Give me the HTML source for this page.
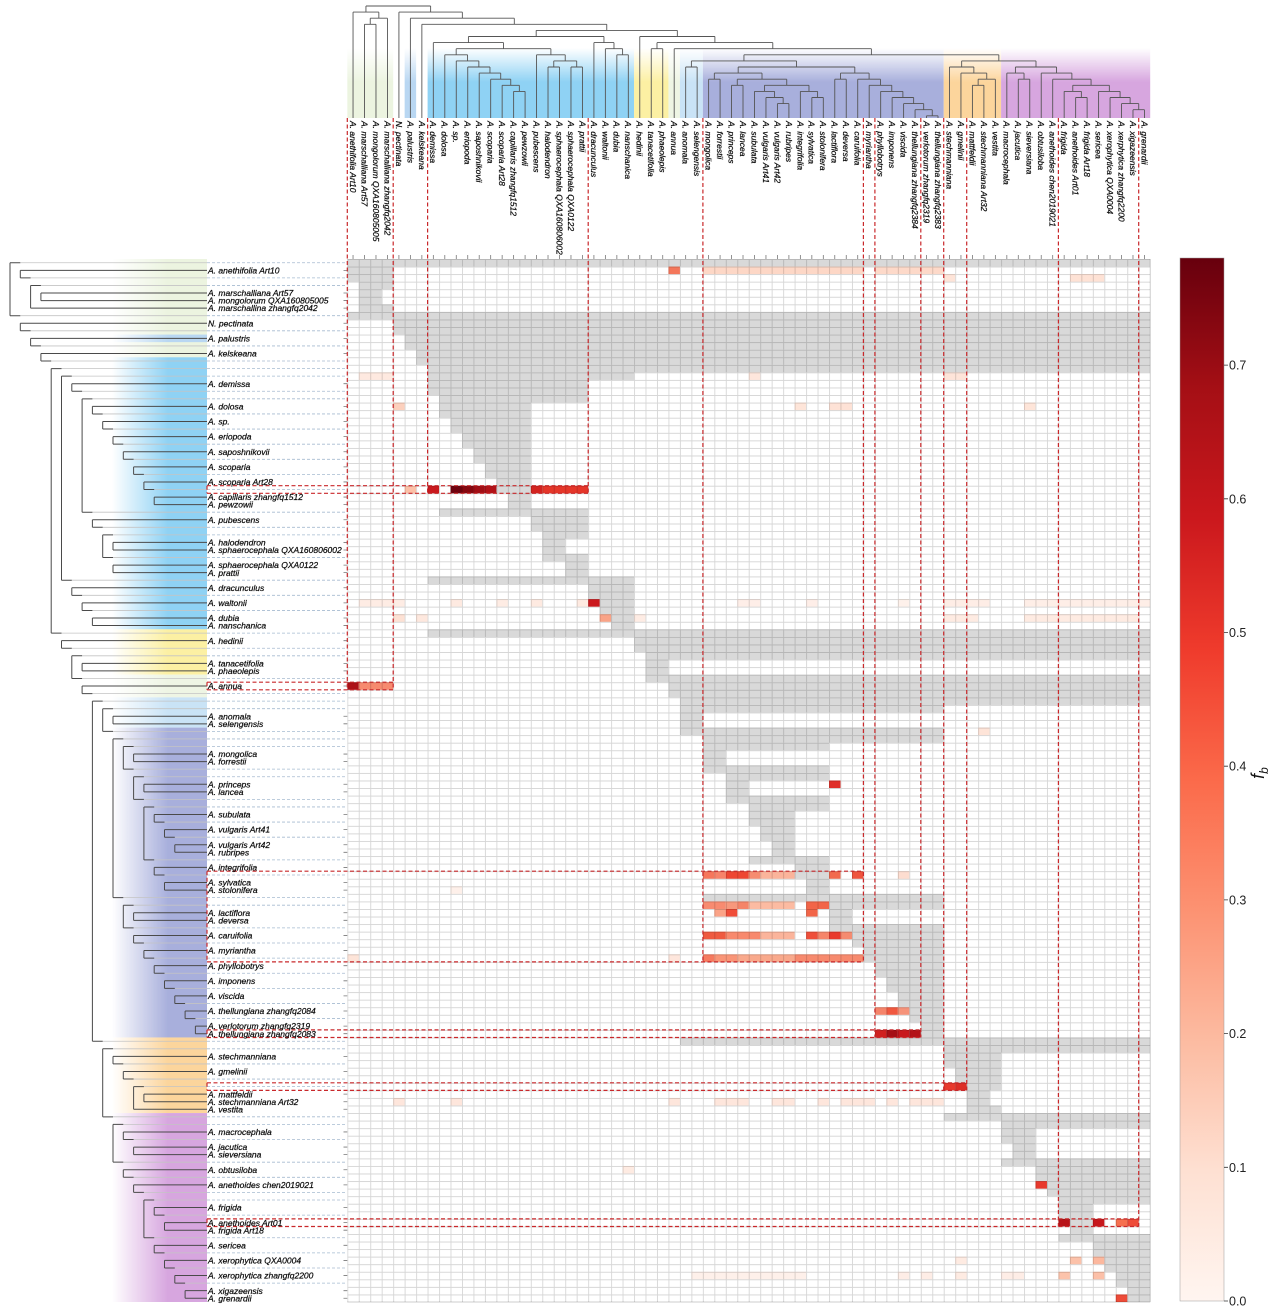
<!DOCTYPE html>
<html><head><meta charset="utf-8">
<style>
html,body{margin:0;padding:0;background:#fff;}
svg{display:block;}
text{font-family:"Liberation Sans",Arial,sans-serif;}
.lb text{font-size:8.5px;font-style:italic;fill:#0a0a0a;stroke:#0a0a0a;stroke-width:0.22px;}
.cb text{font-size:12.5px;fill:#222;}
</style></head><body>
<svg id="fig" width="1269" height="1311" viewBox="0 0 1269 1311" xmlns="http://www.w3.org/2000/svg">
<defs>
 <linearGradient id="fadeV" x1="0" y1="48" x2="0" y2="82" gradientUnits="userSpaceOnUse"><stop offset="0" stop-color="#000"/><stop offset="1" stop-color="#fff"/></linearGradient>
 <mask id="mTop" maskUnits="userSpaceOnUse" x="0" y="0" width="1269" height="130"><rect x="0" y="0" width="1269" height="130" fill="url(#fadeV)"/></mask>
 <linearGradient id="fadeH" x1="112" y1="0" x2="168" y2="0" gradientUnits="userSpaceOnUse"><stop offset="0" stop-color="#000"/><stop offset="1" stop-color="#fff"/></linearGradient>
 <mask id="mLeft" maskUnits="userSpaceOnUse" x="0" y="250" width="220" height="1061"><rect x="0" y="250" width="220" height="1061" fill="url(#fadeH)"/></mask>
 <pattern id="grid" patternUnits="userSpaceOnUse" x="347.3" y="259" width="11.47" height="7.558"><path d="M0.45 0V7.558M0 0.45H11.47" stroke="#000" stroke-opacity="0.16" stroke-width="0.9" fill="none"/></pattern>
 <linearGradient id="cbar" x1="0" y1="1" x2="0" y2="0">
  <stop offset="0" stop-color="#fff5f0"/><stop offset="0.125" stop-color="#fee0d2"/><stop offset="0.25" stop-color="#fcbba1"/><stop offset="0.375" stop-color="#fc9272"/><stop offset="0.5" stop-color="#fb6a4a"/><stop offset="0.625" stop-color="#ef3b2c"/><stop offset="0.75" stop-color="#cb181d"/><stop offset="0.875" stop-color="#a50f15"/><stop offset="1" stop-color="#67000d"/>
 </linearGradient>
</defs>

<g mask="url(#mTop)">
 <rect x="347.3" y="45" width="45.9" height="73" fill="#ecf4e0"/>
 <rect x="404.65" y="45" width="11.47" height="73" fill="#b9d7f2"/>
 <rect x="427.6" y="45" width="206.45" height="73" fill="#8fd2f4"/>
 <rect x="634.05" y="45" width="34.41" height="73" fill="#fcf0a3"/>
 <rect x="668.46" y="45" width="11.47" height="73" fill="#eef5e4"/>
 <rect x="679.93" y="45" width="22.94" height="73" fill="#c9e3f6"/>
 <rect x="702.87" y="45" width="240.87" height="73" fill="#a8afdc"/>
 <rect x="943.74" y="45" width="57.35" height="73" fill="#fcd59c"/>
 <rect x="1001.09" y="45" width="149.11" height="73" fill="#d7a6df"/>
</g>
<g mask="url(#mLeft)">
 <rect x="100" y="259" width="107" height="98.25" fill="#ecf4e0"/>
 <rect x="100" y="334.58" width="107" height="7.56" fill="#b9d7f2"/>
 <rect x="100" y="357.25" width="107" height="272.09" fill="#8fd2f4"/>
 <rect x="100" y="629.34" width="107" height="45.35" fill="#fcf0a3"/>
 <rect x="100" y="674.69" width="107" height="22.67" fill="#eef5e4"/>
 <rect x="100" y="697.36" width="107" height="30.24" fill="#c9e3f6"/>
 <rect x="100" y="727.6" width="107" height="309.87" fill="#a8afdc"/>
 <rect x="100" y="1037.47" width="107" height="75.58" fill="#fcd59c"/>
 <rect x="100" y="1113.05" width="107" height="188.95" fill="#d7a6df"/>
</g>

<svg x="347.3" y="259" width="802.9" height="1043" viewBox="0 0 70 138" preserveAspectRatio="none">
 <g fill="#d9d9d9">
  <rect x="0" y="0" width="70" height="1"/><rect x="0" y="1" width="4" height="2"/><rect x="1" y="3" width="3" height="1"/><rect x="1" y="4" width="2" height="2"/><rect x="1" y="6" width="3" height="1"/>
  <rect x="0" y="7" width="70" height="1"/><rect x="4" y="8" width="66" height="2"/><rect x="5" y="10" width="65" height="2"/><rect x="6" y="12" width="64" height="2"/><rect x="7" y="14" width="63" height="1"/>
  <rect x="7" y="15" width="18" height="1"/><rect x="7" y="16" width="14" height="2"/><rect x="8" y="18" width="13" height="1"/><rect x="8" y="19" width="8" height="2"/><rect x="9" y="21" width="7" height="2"/>
  <rect x="10" y="23" width="6" height="2"/><rect x="11" y="25" width="5" height="2"/><rect x="12" y="27" width="4" height="2"/><rect x="13" y="29" width="3" height="2"/><rect x="14" y="31" width="2" height="2"/>
  <rect x="8" y="33" width="13" height="1"/><rect x="16" y="34" width="5" height="2"/><rect x="17" y="36" width="4" height="1"/><rect x="17" y="37" width="2" height="2"/><rect x="17" y="39" width="4" height="1"/>
  <rect x="19" y="40" width="2" height="2"/><rect x="7" y="42" width="18" height="1"/><rect x="21" y="43" width="4" height="2"/><rect x="22" y="45" width="3" height="2"/><rect x="23" y="47" width="2" height="2"/>
  <rect x="7" y="49" width="63" height="1"/><rect x="25" y="50" width="45" height="2"/><rect x="26" y="52" width="44" height="1"/><rect x="26" y="53" width="2" height="2"/><rect x="26" y="55" width="44" height="1"/>
  <rect x="28" y="56" width="42" height="2"/><rect x="29" y="58" width="41" height="1"/><rect x="29" y="59" width="23" height="1"/><rect x="29" y="60" width="2" height="2"/><rect x="29" y="62" width="23" height="1"/>
  <rect x="31" y="63" width="21" height="1"/><rect x="31" y="64" width="11" height="1"/><rect x="31" y="65" width="2" height="2"/><rect x="31" y="67" width="11" height="1"/><rect x="33" y="68" width="9" height="1"/>
  <rect x="33" y="69" width="2" height="2"/><rect x="33" y="71" width="9" height="1"/><rect x="35" y="72" width="7" height="1"/><rect x="35" y="73" width="4" height="2"/><rect x="36" y="75" width="3" height="2"/>
  <rect x="37" y="77" width="2" height="2"/><rect x="35" y="79" width="7" height="1"/><rect x="39" y="80" width="3" height="2"/><rect x="40" y="82" width="2" height="2"/><rect x="31" y="84" width="21" height="1"/>
  <rect x="42" y="85" width="10" height="1"/><rect x="42" y="86" width="2" height="2"/><rect x="42" y="88" width="10" height="1"/><rect x="44" y="89" width="8" height="2"/><rect x="45" y="91" width="7" height="2"/>
  <rect x="46" y="93" width="6" height="2"/><rect x="47" y="95" width="5" height="2"/><rect x="48" y="97" width="4" height="2"/><rect x="49" y="99" width="3" height="2"/><rect x="50" y="101" width="2" height="2"/>
  <rect x="29" y="103" width="41" height="1"/><rect x="52" y="104" width="18" height="1"/><rect x="52" y="105" width="5" height="2"/><rect x="53" y="107" width="4" height="2"/><rect x="54" y="109" width="3" height="1"/>
  <rect x="54" y="110" width="2" height="2"/><rect x="54" y="112" width="3" height="1"/><rect x="52" y="113" width="18" height="1"/><rect x="57" y="114" width="13" height="1"/><rect x="57" y="115" width="3" height="2"/>
  <rect x="58" y="117" width="2" height="2"/><rect x="57" y="119" width="13" height="1"/><rect x="60" y="120" width="10" height="2"/><rect x="61" y="122" width="9" height="2"/><rect x="62" y="124" width="8" height="1"/>
  <rect x="62" y="125" width="3" height="2"/><rect x="63" y="127" width="2" height="2"/><rect x="62" y="129" width="8" height="1"/><rect x="65" y="130" width="5" height="2"/><rect x="66" y="132" width="4" height="2"/>
  <rect x="67" y="134" width="3" height="2"/><rect x="68" y="136" width="2" height="2"/>
 </g>
 <g>
  <rect x="28" y="1" width="1" height="1" fill="#f4775b"/><rect x="31" y="1" width="14" height="1" fill="#fdd7c6"/><rect x="46" y="1" width="6" height="1" fill="#fdd9c9"/>
  <rect x="52" y="2" width="1" height="1" fill="#fee4d8"/><rect x="63" y="2" width="3" height="1" fill="#fee2d5"/>
  <rect x="1" y="15" width="3" height="1" fill="#fee9e0"/><rect x="35" y="15" width="1" height="1" fill="#fee6dc"/><rect x="52" y="15" width="2" height="1" fill="#fee4d9"/>
  <rect x="4" y="19" width="1" height="1" fill="#fcd0bd"/><rect x="39" y="19" width="1" height="1" fill="#fee5d9"/><rect x="42" y="19" width="2" height="1" fill="#fee2d6"/><rect x="59" y="19" width="1" height="1" fill="#fee5d9"/>
  <rect x="5" y="30" width="1" height="1" fill="#fcc0a7"/><rect x="7" y="30" width="1" height="1" fill="#c9191e"/><rect x="9" y="30" width="1" height="1" fill="#6e020e"/><rect x="10" y="30" width="1" height="1" fill="#87070f"/><rect x="11" y="30" width="1" height="1" fill="#a10e15"/><rect x="12" y="30" width="1" height="1" fill="#b21218"/><rect x="16" y="30" width="1" height="1" fill="#d3231f"/><rect x="17" y="30" width="4" height="1" fill="#e53629"/>
  <rect x="1" y="45" width="4" height="1" fill="#feece4"/><rect x="9" y="45" width="1" height="1" fill="#feeae1"/><rect x="13" y="45" width="1" height="1" fill="#feece4"/><rect x="16" y="45" width="1" height="1" fill="#feeae1"/><rect x="20" y="45" width="1" height="1" fill="#feeae1"/><rect x="21" y="45" width="1" height="1" fill="#cb181d"/><rect x="34" y="45" width="2" height="1" fill="#feeee8"/><rect x="40" y="45" width="1" height="1" fill="#feeee8"/><rect x="48" y="45" width="1" height="1" fill="#fef1eb"/><rect x="52" y="45" width="4" height="1" fill="#feede6"/><rect x="59" y="45" width="11" height="1" fill="#feeee7"/>
  <rect x="4" y="47" width="1" height="1" fill="#fde1d4"/><rect x="6" y="47" width="1" height="1" fill="#fee8de"/><rect x="22" y="47" width="1" height="1" fill="#f9a387"/><rect x="25" y="47" width="1" height="1" fill="#feece4"/><rect x="52" y="47" width="3" height="1" fill="#feebe2"/><rect x="59" y="47" width="10" height="1" fill="#feebe2"/>
  <rect x="0" y="56" width="1" height="1" fill="#ad1117"/><rect x="1" y="56" width="3" height="1" fill="#f78a6f"/>
  <rect x="55" y="62" width="1" height="1" fill="#fee4d8"/>
  <rect x="42" y="69" width="1" height="1" fill="#e0302a"/>
  <rect x="31" y="81" width="1" height="1" fill="#f6775c"/><rect x="32" y="81" width="1" height="1" fill="#f7836a"/><rect x="33" y="81" width="2" height="1" fill="#ee4733"/><rect x="35" y="81" width="1" height="1" fill="#f68c70"/><rect x="36" y="81" width="3" height="1" fill="#fbb49b"/><rect x="42" y="81" width="1" height="1" fill="#f26a4e"/><rect x="44" y="81" width="1" height="1" fill="#ef543e"/><rect x="48" y="81" width="1" height="1" fill="#fdddd0"/>
  <rect x="9" y="83" width="1" height="1" fill="#fef0ea"/>
  <rect x="31" y="85" width="2" height="1" fill="#f88b70"/><rect x="33" y="85" width="1" height="1" fill="#f7987c"/><rect x="34" y="85" width="1" height="1" fill="#f58468"/><rect x="35" y="85" width="4" height="1" fill="#fcbba2"/><rect x="40" y="85" width="2" height="1" fill="#f26548"/>
  <rect x="32" y="86" width="1" height="1" fill="#fba387"/><rect x="33" y="86" width="1" height="1" fill="#f04d39"/><rect x="40" y="86" width="1" height="1" fill="#f26548"/>
  <rect x="31" y="89" width="2" height="1" fill="#ef5a40"/><rect x="33" y="89" width="3" height="1" fill="#f8896d"/><rect x="36" y="89" width="3" height="1" fill="#fbb49b"/><rect x="40" y="89" width="1" height="1" fill="#ef4f3a"/><rect x="41" y="89" width="1" height="1" fill="#f6856a"/><rect x="42" y="89" width="1" height="1" fill="#e9392c"/><rect x="43" y="89" width="1" height="1" fill="#f58b70"/>
  <rect x="0" y="92" width="1" height="1" fill="#fde4d8"/><rect x="28" y="92" width="1" height="1" fill="#fee6dc"/><rect x="31" y="92" width="1" height="1" fill="#f67a5f"/><rect x="32" y="92" width="2" height="1" fill="#f99577"/><rect x="34" y="92" width="5" height="1" fill="#f9a98c"/><rect x="39" y="92" width="6" height="1" fill="#f78a6e"/>
  <rect x="46" y="99" width="1" height="1" fill="#f5846a"/><rect x="47" y="99" width="1" height="1" fill="#f0583f"/><rect x="48" y="99" width="1" height="1" fill="#f6937a"/>
  <rect x="46" y="102" width="1" height="1" fill="#d0201f"/><rect x="47" y="102" width="1" height="1" fill="#a50f15"/><rect x="48" y="102" width="1" height="1" fill="#c8181d"/><rect x="49" y="102" width="1" height="1" fill="#b31318"/>
  <rect x="52" y="109" width="1" height="1" fill="#e8392d"/><rect x="53" y="109" width="1" height="1" fill="#dd2d26"/>
  <g fill="#fee6dc"><rect x="4" y="111" width="1" height="1"/><rect x="9" y="111" width="1" height="1"/><rect x="28" y="111" width="1" height="1"/><rect x="32" y="111" width="3" height="1"/><rect x="37" y="111" width="2" height="1"/><rect x="41" y="111" width="1" height="1"/><rect x="43" y="111" width="3" height="1"/><rect x="47" y="111" width="1" height="1"/><rect x="49" y="111" width="3" height="1"/></g>
  <rect x="24" y="120" width="1" height="1" fill="#feebe2"/>
  <rect x="60" y="122" width="1" height="1" fill="#e8392d"/>
  <rect x="62" y="127" width="1" height="1" fill="#b81419"/><rect x="65" y="127" width="1" height="1" fill="#c7171c"/><rect x="67" y="127" width="1" height="1" fill="#f6704f"/><rect x="68" y="127" width="1" height="1" fill="#ee4b38"/>
  <rect x="53" y="132" width="1" height="1" fill="#feebe2"/><rect x="63" y="132" width="1" height="1" fill="#fcc2aa"/><rect x="65" y="132" width="1" height="1" fill="#fcb89e"/>
  <rect x="30" y="134" width="10" height="1" fill="#fef0ea"/><rect x="48" y="134" width="1" height="1" fill="#feede6"/><rect x="50" y="134" width="1" height="1" fill="#feede6"/><rect x="53" y="134" width="1" height="1" fill="#feebe2"/><rect x="57" y="134" width="2" height="1" fill="#feede6"/><rect x="62" y="134" width="1" height="1" fill="#fcc3ab"/><rect x="65" y="134" width="1" height="1" fill="#fcc0a8"/>
  <rect x="67" y="137" width="1" height="1" fill="#ee4b38"/>
 </g>
</svg>
<rect x="347.3" y="259" width="802.9" height="1043" fill="url(#grid)"/>
<path d="M1150.2 259V1302M347.3 1302H1150.2" stroke="#000" stroke-opacity="0.2" stroke-width="0.9" fill="none"/>

<g id="trees"></g>

<path fill="none" stroke="#c9282b" stroke-width="1.2" stroke-dasharray="4 2.5" d="
M207 682.2H393.2M207 689.8H393.2M207 682.2V689.8M347.3 118V689.8M393.2 118V689.8
M207 485.7H588.2M207 493.3H588.2M207 485.7V493.3M427.6 118V493.3M588.2 118V493.3
M207 871.2H863.4M207 961.9H863.4M207 871.2V961.9M702.9 118V961.9M863.4 118V961.9
M207 1029.9H920.8M207 1037.5H920.8M207 1029.9V1037.5M874.9 118V1037.5M920.8 118V1037.5
M207 1082.8H966.7M207 1090.4H966.7M207 1082.8V1090.4M943.7 118V1090.4M966.7 118V1090.4
M207 1218.9H1138.7M207 1226.5H1138.7M207 1218.9V1226.5M1058.4 118V1226.5M1138.7 118V1226.5"/>

<g class="lb">
<text x="208" y="273.4">A. anethifolia Art10</text>
<text x="208" y="296.1">A. marschalliana Art57</text>
<text x="208" y="303.7">A. mongolorum QXA160805005</text>
<text x="208" y="311.2">A. marschallina zhangfq2042</text>
<text x="208" y="326.3">N. pectinata</text>
<text x="208" y="341.5">A. palustris</text>
<text x="208" y="356.6">A. kelskeana</text>
<text x="208" y="386.8">A. demissa</text>
<text x="208" y="409.5">A. dolosa</text>
<text x="208" y="424.6">A. sp.</text>
<text x="208" y="439.7">A. eriopoda</text>
<text x="208" y="454.8">A. saposhnikovii</text>
<text x="208" y="470.0">A. scoparia</text>
<text x="208" y="485.1">A. scoparia Art28</text>
<text x="208" y="500.2">A. capillaris zhangfq1512</text>
<text x="208" y="507.7">A. pewzowii</text>
<text x="208" y="522.9">A. pubescens</text>
<text x="208" y="545.5">A. halodendron</text>
<text x="208" y="553.1">A. sphaerocephala QXA160806002</text>
<text x="208" y="568.2">A. sphaerocephala QXA0122</text>
<text x="208" y="575.8">A. prattii</text>
<text x="208" y="590.9">A. dracunculus</text>
<text x="208" y="606.0">A. waltonii</text>
<text x="208" y="621.1">A. dubia</text>
<text x="208" y="628.7">A. nanschanica</text>
<text x="208" y="643.8">A. hedinii</text>
<text x="208" y="666.5">A. tanacetifolia</text>
<text x="208" y="674.0">A. phaeolepis</text>
<text x="208" y="689.1">A. annua</text>
<text x="208" y="719.4">A. anomala</text>
<text x="208" y="726.9">A. selengensis</text>
<text x="208" y="757.2">A. mongolica</text>
<text x="208" y="764.7">A. forrestii</text>
<text x="208" y="787.4">A. princeps</text>
<text x="208" y="794.9">A. lancea</text>
<text x="208" y="817.6">A. subulata</text>
<text x="208" y="832.7">A. vulgaris Art41</text>
<text x="208" y="847.8">A. vulgaris Art42</text>
<text x="208" y="855.4">A. rubripes</text>
<text x="208" y="870.5">A. integrifolia</text>
<text x="208" y="885.6">A. sylvatica</text>
<text x="208" y="893.2">A. stolonifera</text>
<text x="208" y="915.9">A. lactiflora</text>
<text x="208" y="923.4">A. deversa</text>
<text x="208" y="938.5">A. caruifolia</text>
<text x="208" y="953.7">A. myriantha</text>
<text x="208" y="968.8">A. phyllobotrys</text>
<text x="208" y="983.9">A. imponens</text>
<text x="208" y="999.0">A. viscida</text>
<text x="208" y="1014.1">A. thellungiana zhangfq2084</text>
<text x="208" y="1029.2">A. verlotorum zhangfq2319</text>
<text x="208" y="1036.8">A. thellungiana zhangfq2083</text>
<text x="208" y="1059.5">A. stechmanniana</text>
<text x="208" y="1074.6">A. gmelinii</text>
<text x="208" y="1097.3">A. mattfeldii</text>
<text x="208" y="1104.8">A. stechmanniana Art32</text>
<text x="208" y="1112.4">A. vestita</text>
<text x="208" y="1135.1">A. macrocephala</text>
<text x="208" y="1150.2">A. jacutica</text>
<text x="208" y="1157.7">A. sieversiana</text>
<text x="208" y="1172.8">A. obtusiloba</text>
<text x="208" y="1188.0">A. anethoides chen2019021</text>
<text x="208" y="1210.6">A. frigida</text>
<text x="208" y="1225.8">A. anethoides Art01</text>
<text x="208" y="1233.3">A. frigida Art18</text>
<text x="208" y="1248.4">A. sericea</text>
<text x="208" y="1263.5">A. xerophytica QXA0004</text>
<text x="208" y="1278.7">A. xerophytica zhangfq2200</text>
<text x="208" y="1293.8">A. xigazeensis</text>
<text x="208" y="1301.3">A. grenardii</text>
</g>

<g class="lb" transform="translate(353.035,121) rotate(90)">
<text x="0" y="3.1">A. anethifolia Art10</text>
<text x="0" y="-8.37">A. marschalliana Art57</text>
<text x="0" y="-19.84">A. mongolorum QXA160805005</text>
<text x="0" y="-31.31">A. marschalliana zhangfq2042</text>
<text x="0" y="-42.78">N. pectinata</text>
<text x="0" y="-54.25">A. palustris</text>
<text x="0" y="-65.72">A. kelskeana</text>
<text x="0" y="-77.19">A. demissa</text>
<text x="0" y="-88.66">A. dolosa</text>
<text x="0" y="-100.13">A. sp.</text>
<text x="0" y="-111.6">A. eriopoda</text>
<text x="0" y="-123.07">A. saposhnikovii</text>
<text x="0" y="-134.54">A. scoparia</text>
<text x="0" y="-146.01">A. scoparia Art28</text>
<text x="0" y="-157.48">A. capillaris zhangfq1512</text>
<text x="0" y="-168.95">A. pewzowii</text>
<text x="0" y="-180.42">A. pubescens</text>
<text x="0" y="-191.89">A. halodendron</text>
<text x="0" y="-203.36">A. sphaerocephala QXA160806002</text>
<text x="0" y="-214.83">A. sphaerocephala QXA0122</text>
<text x="0" y="-226.3">A. prattii</text>
<text x="0" y="-237.77">A. dracunculus</text>
<text x="0" y="-249.24">A. waltonii</text>
<text x="0" y="-260.71">A. dubia</text>
<text x="0" y="-272.18">A. nanschanica</text>
<text x="0" y="-283.65">A. hedinii</text>
<text x="0" y="-295.12">A. tanacetifolia</text>
<text x="0" y="-306.59">A. phaeolepis</text>
<text x="0" y="-318.06">A. annua</text>
<text x="0" y="-329.53">A. anomala</text>
<text x="0" y="-341.0">A. selengensis</text>
<text x="0" y="-352.47">A. mongolica</text>
<text x="0" y="-363.94">A. forrestii</text>
<text x="0" y="-375.41">A. princeps</text>
<text x="0" y="-386.88">A. lancea</text>
<text x="0" y="-398.35">A. subulata</text>
<text x="0" y="-409.82">A. vulgaris Art41</text>
<text x="0" y="-421.29">A. vulgaris Art42</text>
<text x="0" y="-432.76">A. rubripes</text>
<text x="0" y="-444.23">A. integrifolia</text>
<text x="0" y="-455.7">A. sylvatica</text>
<text x="0" y="-467.17">A. stolonifera</text>
<text x="0" y="-478.64">A. lactiflora</text>
<text x="0" y="-490.11">A. deversa</text>
<text x="0" y="-501.58">A. caruifolia</text>
<text x="0" y="-513.05">A. myriantha</text>
<text x="0" y="-524.52">A. phyllobotrys</text>
<text x="0" y="-535.99">A. imponens</text>
<text x="0" y="-547.46">A. viscida</text>
<text x="0" y="-558.93">A. thellungiana zhangfq2384</text>
<text x="0" y="-570.4">A. verlotorum zhangfq2319</text>
<text x="0" y="-581.87">A. thellungiana zhangfq2383</text>
<text x="0" y="-593.34">A. stechmanniana</text>
<text x="0" y="-604.81">A. gmelinii</text>
<text x="0" y="-616.28">A. mattfeldii</text>
<text x="0" y="-627.75">A. stechmanniana Art32</text>
<text x="0" y="-639.22">A. vestita</text>
<text x="0" y="-650.69">A. macrocephala</text>
<text x="0" y="-662.16">A. jacutica</text>
<text x="0" y="-673.63">A. sieversiana</text>
<text x="0" y="-685.1">A. obtusiloba</text>
<text x="0" y="-696.57">A. anethoides chen2019021</text>
<text x="0" y="-708.04">A. frigida</text>
<text x="0" y="-719.51">A. anethoides Art01</text>
<text x="0" y="-730.98">A. frigida Art18</text>
<text x="0" y="-742.45">A. sericea</text>
<text x="0" y="-753.92">A. xerophytica QXA0004</text>
<text x="0" y="-765.39">A. xerphytica zhangfq2200</text>
<text x="0" y="-776.86">A. xigazeensis</text>
<text x="0" y="-788.33">A. grenardii</text>
</g>

<g class="cb">
<rect x="1180" y="258" width="44" height="1043" fill="url(#cbar)" stroke="#999" stroke-width="0.5"/>
<path d="M1224 1301H1228M1224 1167.3H1228M1224 1033.6H1228M1224 899.9H1228M1224 766.2H1228M1224 632.5H1228M1224 498.8H1228M1224 365.1H1228" stroke="#333" stroke-width="0.8"/>
<text x="1229" y="1305.5">0.0</text>
<text x="1229" y="1171.8">0.1</text>
<text x="1229" y="1038.1">0.2</text>
<text x="1229" y="904.4">0.3</text>
<text x="1229" y="770.7">0.4</text>
<text x="1229" y="637.0">0.5</text>
<text x="1229" y="503.3">0.6</text>
<text x="1229" y="369.6">0.7</text>
<text transform="translate(1264,773) rotate(-90)" text-anchor="middle" style="font-size:18px;font-style:italic;fill:#111">f<tspan style="font-size:12px" dy="4">b</tspan></text>
</g>

<script>
(function(){
var A=[0,[[1,2],3]];
var L8=[8,[9,[10,[11,[12,[13,[14,15]]]]]]];
var B16=[16,[[17,18],[19,20]]];
var Blue=[7,[L8,B16]];
var Dr=[21,[22,[23,24]]];
var D=[Blue,Dr];
var Z=[[35,[36,[37,38]]],[39,[40,41]]];
var I1=[[31,32],[[33,34],Z]];
var I2=[[42,43],[44,[45,[46,[47,[48,[49,[50,51]]]]]]]];
var I=[I1,I2];
var Or=[52,[53,[[54,55],56]]];
var P2=[[62,[63,64]],[65,[66,[67,[68,69]]]]];
var Pk=[[57,[58,59]],[60,[61,P2]]];
var J=[Or,Pk];
var M=[[[29,30],I],J];
var L=[28,M];
var K=[[26,27],L];
var E=[25,K];
var C=[D,E];
var B=[4,[5,[6,C]]];
var root=[A,B];
var row=-1;
function build(n,d){var o={d:d,r:row++};if(Array.isArray(n)){o.c=n.map(function(x){return build(x,d+1);});}else{o.leaf=n;}return o;}
var R=build(root,0);
function X(c){return 347.3+11.47*c;}
function lay(o){
  if(o.c){o.c.forEach(lay);o.tx=(o.c[0].tx+o.c[o.c.length-1].tx)/2;}
  else{o.tx=X(o.leaf)+5.735;}
  o.ty=6+6.1*o.d; o.lx=10+10.3*o.d; o.ly=262.779+7.558*o.r;
}
lay(R);
var dk='',lt='',ds='',tp='',tk='';
function f(v){return v.toFixed(2);}
function draw(o){
  if(!o.c)return;
  var a=o.c[0],b=o.c[o.c.length-1];
  dk+='M'+f(o.lx)+' '+f(a.ly)+'V'+f(b.ly);
  tp+='M'+f(a.tx)+' '+f(o.ty)+'H'+f(b.tx);
  o.c.forEach(function(ch){
    if(ch.c){
      dk+='M'+f(o.lx)+' '+f(ch.ly)+'H'+f(ch.lx);
      lt+='M'+f(ch.lx)+' '+f(ch.ly)+'H207';
      ds+='M207 '+f(ch.ly)+'H347';
      tp+='M'+f(ch.tx)+' '+f(o.ty)+'V'+f(ch.ty);
    }else{
      dk+='M'+f(o.lx)+' '+f(ch.ly)+'H207';
      tp+='M'+f(ch.tx)+' '+f(o.ty)+'V118';
      tk+='M343.5 '+f(ch.ly)+'H347.3M'+f(ch.tx)+' 255V259';
    }
    draw(ch);
  });
}
draw(R);
var g=document.getElementById('trees');
function p(d,s,w,da){var e=document.createElementNS('http://www.w3.org/2000/svg','path');e.setAttribute('d',d);e.setAttribute('fill','none');e.setAttribute('stroke',s);e.setAttribute('stroke-width',w);if(da)e.setAttribute('stroke-dasharray',da);g.appendChild(e);}
p(ds,'#a6bbd0','0.8','3 2');
p(lt,'#c4c4c4','0.8');
p(dk,'#4a4a4a','1');
p(tp,'#555','0.9');
p(tk,'#777','0.8');
})();
</script>
</svg>
</body></html>
